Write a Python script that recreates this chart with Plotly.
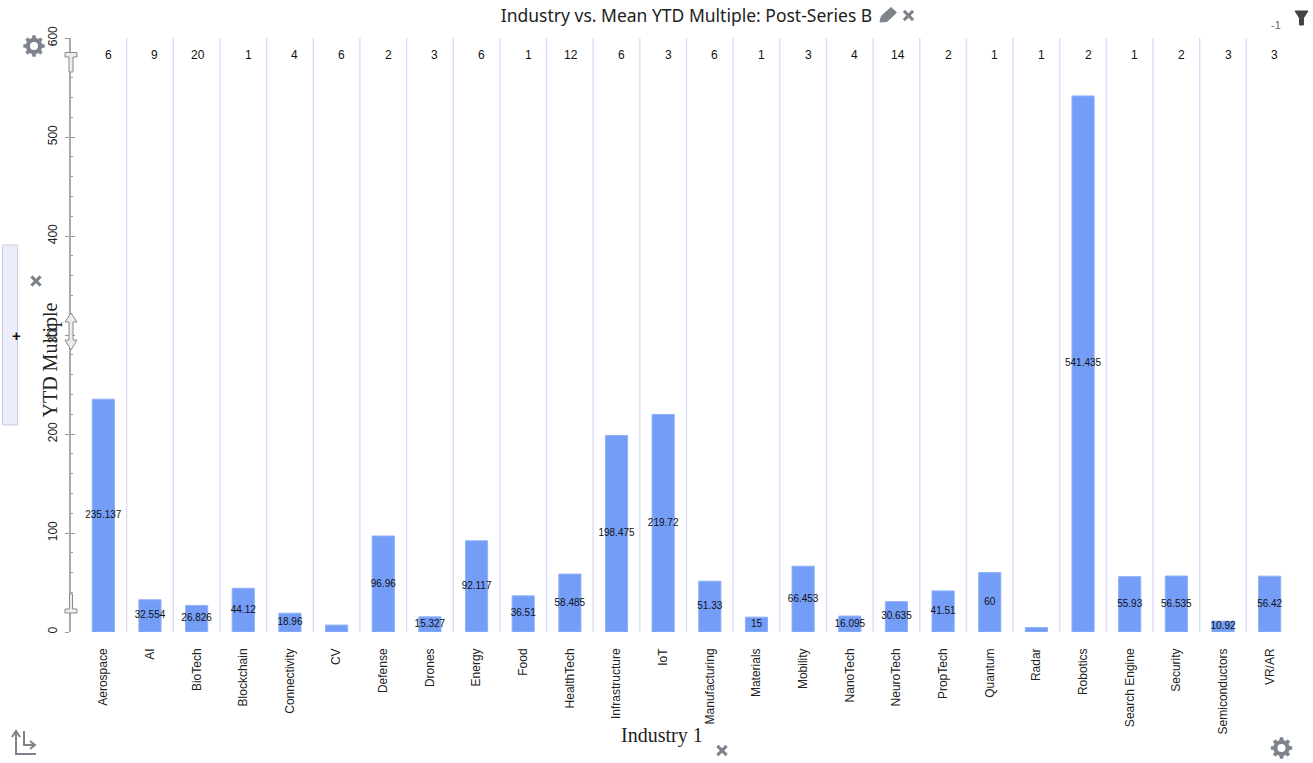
import math
import plotly.graph_objects as go

# Mean YTD multiple per industry, post-Series B
industries = ["Aerospace", "AI", "BioTech", "Blockchain", "Connectivity", "CV", "Defense", "Drones",
              "Energy", "Food", "HealthTech", "Infrastructure", "IoT", "Manufacturing", "Materials",
              "Mobility", "NanoTech", "NeuroTech", "PropTech", "Quantum", "Radar", "Robotics",
              "Search Engine", "Security", "Semiconductors", "VR/AR"]
mean_multiple = [235.137, 32.554, 26.826, 44.12, 18.96, 7, 96.96, 15.327, 92.117, 36.51, 58.485,
                 198.475, 219.72, 51.33, 15, 66.453, 16.095, 30.635, 41.51, 60, 4.5, 541.435,
                 55.93, 56.535, 10.92, 56.42]
# The two smallest bars carry no value label
unlabelled = {"CV", "Radar"}
company_counts = [6, 9, 20, 1, 4, 6, 2, 3, 6, 1, 12, 6, 3, 6, 1, 3, 4, 14, 2, 1, 1, 2, 1, 2, 3, 3]
y_ticks = [0, 100, 200, 300, 400, 500, 600]

W, H = 1313, 763
PLOT_L, PLOT_R, PLOT_T, PLOT_B = 71, 1293, 38, 632
SANS = "Liberation Sans, Arial, sans-serif"
ICON = "#7d838b"
SLOT = (PLOT_R - 80) / 26


def fx(px):
    return px / W


def fy(py):
    return 1 - py / H


def poly(points, close=True):
    d = "M " + " L ".join(f"{fx(x):.5f},{fy(y):.5f}" for x, y in points)
    return d + (" Z" if close else "")


def outline(points, fill, stroke, width=1, close=True):
    return dict(type="path", xref="paper", yref="paper", path=poly(points, close),
                fillcolor=fill if close else "rgba(0,0,0,0)",
                line=dict(color=stroke, width=width), layer="above")


def gear(cx, cy, r=10.5, teeth=8):
    pts = []
    for k in range(teeth):
        a = 2 * math.pi * k / teeth - math.pi / 2
        step = 2 * math.pi / teeth
        for off, rad in ((-0.30, 0.76), (-0.17, 1.0), (0.17, 1.0), (0.30, 0.76)):
            t = a + off * step * 1.0
            pts.append((cx + rad * r * math.cos(t), cy + rad * r * math.sin(t)))
    hole = dict(type="circle", xref="paper", yref="paper", x0=fx(cx - r * 0.38), x1=fx(cx + r * 0.38),
                y0=fy(cy + r * 0.38), y1=fy(cy - r * 0.38), fillcolor="white",
                line=dict(width=0), layer="above")
    return [outline(pts, ICON, ICON, 0.5), hole]


def cross(cx, cy, r=4.6):
    return [outline([(cx - r, cy - r), (cx + r, cy + r)], None, ICON, 3, False),
            outline([(cx - r, cy + r), (cx + r, cy - r)], None, ICON, 3, False)]


fig = go.Figure()

fig.add_bar(x=industries, y=mean_multiple, width=0.475, marker=dict(color="#739df7", line=dict(color="#8fb0f8", width=1)),
            showlegend=False, hoverinfo="x+y")

# Value labels sit halfway up each bar
fig.add_scatter(x=industries, y=[v / 2 for v in mean_multiple],
                text=["" if c in unlabelled else f"{v:g}" for c, v in zip(industries, mean_multiple)],
                mode="text", textposition="middle center",
                textfont=dict(family=SANS, size=10, color="#111"),
                showlegend=False, hoverinfo="skip", yaxis="y2", cliponaxis=False)

# Small round markers under the baseline, one per category
DOT_DROP = -6
fig.add_scatter(x=industries, y=[DOT_DROP] * len(industries), mode="markers",
                marker=dict(size=6.5, color="#555a60"), showlegend=False,
                hoverinfo="skip", cliponaxis=False)

shapes = []
for i in range(len(industries) - 1):
    shapes.append(dict(type="line", xref="x", yref="paper", x0=i + 0.5, x1=i + 0.5,
                       y0=fy(PLOT_B), y1=fy(PLOT_T), line=dict(color="#dcdcfa", width=1.4), layer="below"))

# Range-slider handles on the value axis
HF, HS = "#ececec", "#8a8a8a"
shapes.append(outline([(65, 52.5), (77, 52.5), (77, 57), (73, 57), (73, 72), (69, 72), (69, 57), (65, 57)], HF, HS))
shapes.append(outline([(69.5, 594), (72.5, 594), (72.5, 609), (77, 609), (77, 613), (65, 613), (65, 609), (69.5, 609)], HF, HS))
shapes.append(outline([(71, 313), (77, 322), (73, 322), (73, 340), (77, 340), (71, 350), (65, 340), (69, 340),
                       (69, 322), (65, 322)], HF, HS))

# Collapsed side panel
shapes.append(outline([(2.5, 245), (17.5, 245), (17.5, 425), (2.5, 425)], "#eceefc", "#c9cbdc"))

# Toolbar icons
shapes += gear(34, 46) + gear(1281.5, 748)
shapes += cross(908.5, 15.5) + cross(36, 281) + cross(722, 750.5)
shapes.append(outline([(880, 22), (881.5, 16), (891, 7.5), (896.5, 12.5), (887, 21.5)], ICON, ICON))
shapes.append(outline([(1295, 11), (1308, 11), (1303.5, 18), (1303.5, 25), (1299.5, 25), (1299.5, 18)], "#444", "#444"))
shapes.append(outline([(16, 732), (16, 754), (36, 754)], None, ICON, 2, False))
shapes.append(outline([(12, 737), (16, 731), (20, 737)], None, ICON, 2, False))
shapes.append(outline([(24, 731), (24, 745), (35, 745)], None, ICON, 2, False))
shapes.append(outline([(30, 741), (35, 745), (30, 749)], None, ICON, 2, False))

annotations = [
    dict(xref="x", yref="paper", x=c, y=fy(55), text=str(n), showarrow=False, xanchor="right",
         xshift=10.5, yanchor="middle", font=dict(family=SANS, size=12, color="#111"))
    for c, n in zip(industries, company_counts)
]
annotations += [
    dict(xref="paper", yref="paper", x=fx(661.5), y=fy(749), text="Industry 1", showarrow=False,
         font=dict(family="Liberation Serif, serif", size=20, color="#222")),
    dict(xref="paper", yref="paper", x=fx(37), y=fy(360), text="YTD Multiple", showarrow=False, textangle=-90,
         font=dict(family="Liberation Serif, serif", size=20, color="#222")),
    dict(xref="paper", yref="paper", x=fx(10), y=fy(335), text="<b>+</b>", showarrow=False,
         font=dict(family=SANS, size=15, color="#111")),
    dict(xref="paper", yref="paper", x=fx(1283), y=fy(17), text="-1", showarrow=False,
         font=dict(family=SANS, size=11, color="#666")),
]

y_range = [0, 600]
fig.update_layout(
    width=W, height=H, autosize=False,
    margin=dict(l=0, r=0, t=0, b=0),
    paper_bgcolor="white", plot_bgcolor="white",
    bargap=0.5, showlegend=False,
    title=dict(text="Industry vs. Mean YTD Multiple: Post-Series B", x=fx(686.5), y=fy(16),
               xanchor="center", yanchor="middle", font=dict(family="Noto Sans", size=17.5, color="#222")),
    xaxis=dict(domain=[fx(PLOT_L), fx(PLOT_R)], range=[-0.5 - (80 - PLOT_L) / SLOT, 25.5],
               categoryorder="array", categoryarray=industries,
               tickmode="array", tickvals=industries, ticktext=industries,
               tickangle=-90, tickfont=dict(family=SANS, size=12, color="#222"),
               ticks="", showline=False, showgrid=False, zeroline=False, ticklabelstandoff=13,
               automargin=False),
    yaxis=dict(domain=[fy(PLOT_B), fy(PLOT_T)], range=y_range, tickmode="array", tickvals=y_ticks,
               tickangle=-90, tickfont=dict(family=SANS, size=12, color="#222"),
               ticks="outside", ticklen=4, tickwidth=1, tickcolor="#999",
               showline=True, linecolor="#aaaaaa", linewidth=1.6,
               showgrid=False, zeroline=False, ticklabelstandoff=3, automargin=False),
    yaxis2=dict(domain=[fy(PLOT_B), fy(PLOT_T)], range=y_range, overlaying="y", side="left", anchor="x",
                tickmode="array", tickvals=y_ticks, showticklabels=False,
                ticks="inside", ticklen=4, tickwidth=1, tickcolor="#999",
                minor=dict(dtick=20, ticks="inside", ticklen=2, tickwidth=1, tickcolor="#999"),
                showline=False, showgrid=False, zeroline=False),
    shapes=shapes,
    annotations=annotations,
)

fig.write_html("out.html", config=dict(displayModeBar=False))
